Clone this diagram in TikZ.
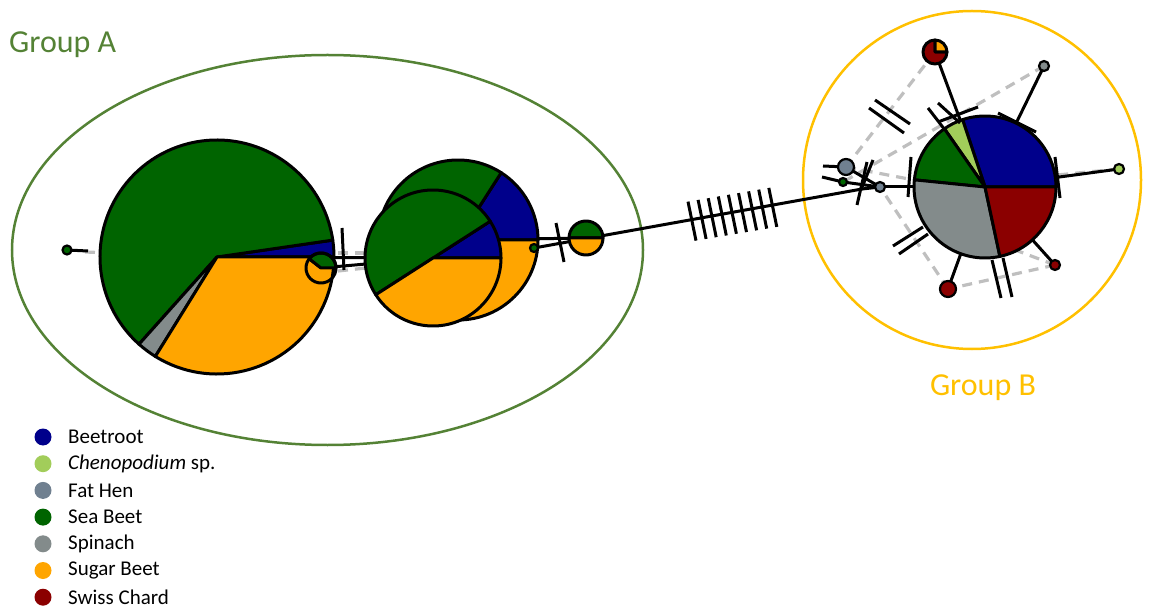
\documentclass[tikz,border=0pt]{standalone}
\usepackage{fontspec}
\setmainfont{Carlito}
\definecolor{beet}{RGB}{0,0,139}
\definecolor{cheno}{RGB}{162,205,90}
\definecolor{fathen}{RGB}{112,128,144}
\definecolor{seabeet}{RGB}{0,100,0}
\definecolor{spinach}{RGB}{131,139,139}
\definecolor{sugar}{RGB}{255,165,0}
\definecolor{chard}{RGB}{139,0,0}
\definecolor{grpA}{RGB}{84,130,53}
\definecolor{grpB}{RGB}{255,192,0}
\definecolor{dashgray}{RGB}{191,191,191}
\newcommand\wedgeP[6]{\filldraw[pieline,fill=#6] (#1,#2) -- ++(-#4:#3) arc[start angle=-#4,end angle=-#5,radius=#3] -- cycle;}
\begin{document}
\begin{tikzpicture}[x=1pt,y=-1pt,
  link/.style={draw=black,line width=3pt},
  ghost/.style={draw=dashgray,line width=3.2pt,dash pattern=on 10pt off 7pt},
  tickmark/.style={draw=black,line width=3pt},
  pieline/.style={draw=black,line width=3pt,line join=round},
  dot/.style={circle,draw=black,line width=2.2pt,inner sep=0pt},
  legdot/.style={circle,inner sep=0pt,minimum size=17pt},
  legtext/.style={anchor=west,inner sep=0pt,font=\fontsize{21}{24}\selectfont}]
\useasboundingbox (0,0) rectangle (1151,612);
% groups
\draw[grpA,line width=2.5pt] (327.5,250) ellipse [x radius=315.5,y radius=195];
\node[anchor=west,text=grpA,font=\fontsize{32}{38}\selectfont,inner sep=0pt] (labA) at (9,45) {Group A};
\draw[grpB,line width=2.5pt] (972,180) circle [radius=169];
\node[text=grpB,font=\fontsize{32}{38}\selectfont,inner sep=0pt] (labB) at (983,388) {Group B};
% coordinates
\coordinate (pA) at (217,257);
\coordinate (pA2) at (321,268);
\coordinate (pC) at (458,240);
\coordinate (pD) at (433,258);
\coordinate (pE) at (586,238);
\coordinate (pB) at (985,187);
\coordinate (pF) at (935,52);
\coordinate (cl) at (862,189);
\coordinate (stubFH) at (823,166);
\coordinate (stubG) at (822,177);
\coordinate (pBup) at (985,182);
\coordinate (pBlo) at (1010,248);
\coordinate (pBl) at (914,180);
\path (67,250) coordinate (nA1c) (534,248) coordinate (nCc)
      (1044,66) coordinate (nTRc) (1119,169) coordinate (nRc)
      (1055,265) coordinate (nBRc) (948,289) coordinate (nBc)
      (846,167) coordinate (nFHc) (843,182) coordinate (nGc) (880,187) coordinate (nSc);
% gray dashed links
\draw[ghost] (338,253) -- (366,253);
\draw[ghost] (338,271) -- (366,268);
\draw[ghost] (85,252) -- (pA);
\draw[ghost] (pF) -- (nFHc);
\draw[ghost] (nTRc) -- (nGc);
\draw[ghost] (nRc) -- (pBup);
\draw[ghost] (nBRc) -- (nBc);
\draw[ghost] (nBc) -- (nSc);
\draw[ghost] (nBRc) -- (pBlo);
\draw[ghost] (nFHc) -- (pBl);
% solid links
\draw[link] (nA1c) -- (88,251);
\draw[link] (pA) -- (pD);
\draw[link] (pA2) -- (pD);
\draw[link] (pC) -- (pE);
\draw[link] (nCc) -- (cl) -- (nSc);
\draw[link] (stubFH) -- (nFHc) -- (nSc);
\draw[link] (stubG) -- (nGc) -- (nSc);
\draw[link] (nSc) -- (pB);
\draw[link] (pF) -- (pB);
\draw[link] (nTRc) -- (pB);
\draw[link] (nRc) -- (pB);
\draw[link] (nBRc) -- (pB);
\draw[link] (nBc) -- (pB);
% pie A
\wedgeP{217}{257}{117}{0}{8.3}{beet}
\wedgeP{217}{257}{117}{8.3}{228.2}{seabeet}
\wedgeP{217}{257}{117}{228.2}{238.2}{spinach}
\wedgeP{217}{257}{117}{238.2}{360}{sugar}
\draw[pieline] (321,268) -- ++(-142:15);
\wedgeP{321}{268}{15}{0}{142}{seabeet}
\draw[pieline] (321,268) circle [radius=15];
% pies C, D
\wedgeP{458}{240}{80}{0}{57.3}{beet}
\wedgeP{458}{240}{80}{57.3}{180}{seabeet}
\wedgeP{458}{240}{80}{180}{360}{sugar}
\wedgeP{433}{258}{68}{0}{32.7}{beet}
\wedgeP{433}{258}{68}{32.7}{212.7}{seabeet}
\wedgeP{433}{258}{68}{212.7}{360}{sugar}
% pie E
\wedgeP{586}{238}{17}{0}{180}{seabeet}
\wedgeP{586}{238}{17}{180}{360}{sugar}
% pie B
\wedgeP{985}{187}{71}{0}{108.4}{beet}
\wedgeP{985}{187}{71}{108.4}{124.9}{cheno}
\wedgeP{985}{187}{71}{124.9}{174.2}{seabeet}
\wedgeP{985}{187}{71}{174.2}{282.1}{spinach}
\wedgeP{985}{187}{71}{282.1}{360}{chard}
% pie F
\wedgeP{935}{52}{12}{90}{360}{chard}
\wedgeP{935}{52}{12}{0}{90}{sugar}
% ticks group A
\draw[tickmark] (342,228) -- (344,270);
\draw[tickmark] (556,223) -- (564,262);
\foreach \i in {0,...,8}{
  \pgfmathsetmacro\tx{692+10.1*\i}
  \pgfmathsetmacro\ty{248-0.17*(\tx-534)}
  \draw[tickmark] ({\tx-4},{\ty-19.5}) -- ({\tx+4},{\ty+19.5});
}
% ticks group B
\draw[tickmark] (867,162) -- (857,205);
\draw[tickmark] (873,160) -- (861,190);
\draw[tickmark] (938,122) -- (978,107);
\draw[tickmark] (928,108) -- (945,130);
\draw[tickmark] (938,103) -- (960,123);
\draw[tickmark] (998,113) -- (1036,132);
\draw[tickmark] (1055,157) -- (1060,198);
\draw[tickmark] (911,157) -- (908,197);
\draw[tickmark] (893,246) -- (923,227);
\draw[tickmark] (899,254) -- (928,234);
\draw[tickmark] (992,260) -- (1001,298);
\draw[tickmark] (1003,258) -- (1012,297);
\draw[tickmark] (875,100) -- (910,124);
\draw[tickmark] (869,108) -- (904,133);
% dots
\node[dot,fill=seabeet,minimum size=9pt] (nA1) at (nA1c) {};
\node[dot,fill=seabeet,minimum size=8pt] (nC) at (nCc) {};
\node[dot,fill=spinach,minimum size=10pt] (nTR) at (nTRc) {};
\node[dot,fill=cheno,minimum size=10pt] (nR) at (nRc) {};
\node[dot,fill=chard,minimum size=10pt] (nBR) at (nBRc) {};
\node[dot,fill=chard,minimum size=16pt] (nB) at (nBc) {};
\node[dot,fill=fathen,minimum size=16pt] (nFH) at (nFHc) {};
\node[dot,fill=seabeet,minimum size=8pt] (nG) at (nGc) {};
\node[dot,fill=fathen,minimum size=10pt] (nS) at (nSc) {};
% legend
\foreach \c/\t [count=\k from 0] in {beet/Beetroot,cheno/{\textit{Chenopodium} sp.},fathen/Fat Hen,seabeet/Sea Beet,spinach/Spinach,sugar/Sugar Beet,chard/Swiss Chard}{
  \node[legdot,fill=\c] (ld\k) at (43,{437+26.7*\k}) {};
  \node[legtext] (lt\k) at (68,{437+26.7*\k}) {\t};
}
\end{tikzpicture}
\end{document}
